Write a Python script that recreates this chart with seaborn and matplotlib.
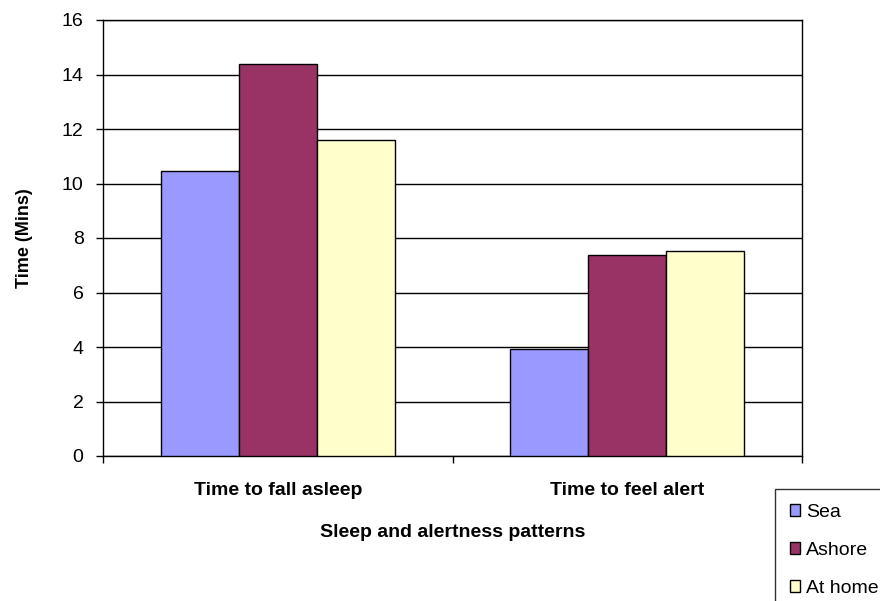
import matplotlib
matplotlib.use("Agg")
import matplotlib.pyplot as plt
import seaborn as sns
import pandas as pd
from matplotlib.patches import Patch
from matplotlib.ticker import FixedLocator

categories = ["Time to fall asleep", "Time to feel alert"]
series = ["Sea", "Ashore", "At home"]
sea = [10.45, 3.94]
ashore = [14.38, 7.38]
at_home = [11.58, 7.52]
colors = ["#9999FF", "#993366", "#FFFFCC"]
yticks = [0, 2, 4, 6, 8, 10, 12, 14, 16]

rows = []
for name, vals in zip(series, [sea, ashore, at_home]):
    for c, v in zip(categories, vals):
        rows.append({"Category": c, "Series": name, "Value": v})
df = pd.DataFrame(rows)

sns.set_style("white")
plt.rcParams["font.family"] = ["Liberation Sans", "DejaVu Sans"]
plt.rcParams["text.color"] = "black"
plt.rcParams["axes.labelcolor"] = "black"
plt.rcParams["xtick.color"] = "black"
plt.rcParams["ytick.color"] = "black"

fig = plt.figure(figsize=(8.8, 6.01), dpi=100)
ax = fig.add_axes([103/880, 1 - 456/601, (802-103)/880, (456-20)/601])

sns.barplot(data=df, x="Category", y="Value", hue="Series", order=categories,
            hue_order=series, palette=colors, width=0.67, gap=0,
            edgecolor="black", linewidth=1.0, saturation=1, ax=ax, legend=False,
            zorder=3)

ax.set_xlim(-0.5, 1.5)
ax.set_ylim(0, 16)
ax.set_yticks(yticks)
ax.set_yticklabels([str(t) for t in yticks], fontsize=14)
ax.yaxis.grid(True, color="black", linewidth=1.0, zorder=0)
ax.set_axisbelow(True)
for s in ax.spines.values():
    s.set_visible(True)
    s.set_color("black")
    s.set_linewidth(1.0)

ax.tick_params(axis="y", which="major", direction="out", length=5, width=1, color="black", left=True, pad=9)
ax.tick_params(axis="x", which="major", length=0, pad=19)
ax.xaxis.set_minor_locator(FixedLocator([-0.5, 0.5, 1.5]))
ax.tick_params(axis="x", which="minor", direction="out", length=5, width=1, color="black", bottom=True)
for lbl in ax.get_xticklabels():
    lbl.set_fontweight("bold")
    lbl.set_fontsize(14)

ax.set_xlabel("Sleep and alertness patterns", fontsize=14, fontweight="bold", labelpad=18)
ax.set_ylabel("Time (Mins)", fontsize=13, fontweight="bold", labelpad=21)

handles = [Patch(facecolor=c, edgecolor="black", linewidth=1.0, label=s) for s, c in zip(series, colors)]
leg = fig.legend(handles=handles, loc="upper left", bbox_to_anchor=(775/880, 1 - 489/601),
                 frameon=True, fancybox=False, fontsize=14, handlelength=0.55, handleheight=0.55,
                 handletextpad=0.3, labelspacing=1.08, borderpad=0.75, borderaxespad=0)
leg.get_frame().set_edgecolor("black")
leg.get_frame().set_linewidth(1.0)

fig.savefig("out.png", dpi=100)
